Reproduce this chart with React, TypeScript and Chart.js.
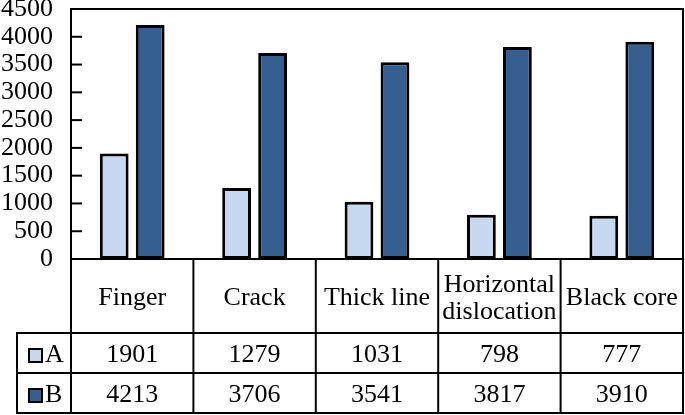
import React, { useEffect, useRef } from "react";
import { Chart, registerables } from "chart.js";

Chart.register(...registerables);

const categories: string[][] = [["Finger"], ["Crack"], ["Thick line"], ["Horizontal", "dislocation"], ["Black core"]];
const seriesNames = ["A", "B"];
const seriesA = [1901, 1279, 1031, 798, 777];
const seriesB = [4213, 3706, 3541, 3817, 3910];
const colorA = "#c6d9f0";
const colorB = "#355e91";
const yMax = 4500;
const yStep = 500;

const FAMILY = "'Liberation Serif', 'Times New Roman', serif";
const FSIZE = 26;
const FONT = FSIZE + "px " + FAMILY;

const tablePlugin = {
  id: "tablePlugin",
  afterDraw(chart: any) {
    const ctx = chart.ctx as CanvasRenderingContext2D;
    const xs = chart.scales.x;
    const ys = chart.scales.y;
    const area = chart.chartArea;
    const left = area.left;
    const right = area.right;
    const top = area.top;
    const zeroY = ys.getPixelForValue(0);
    const headerBottom = zeroY + 74;
    const rowH = 40;
    const rowABottom = headerBottom + rowH;
    const rowBBottom = rowABottom + rowH;
    const legendLeft = 17;
    const n = categories.length;
    const catW = (right - left) / n;

    ctx.save();
    ctx.strokeStyle = "#000";
    ctx.lineWidth = 2;
    ctx.lineCap = "square";
    const line = (x1: number, y1: number, x2: number, y2: number) => {
      ctx.beginPath();
      ctx.moveTo(x1, y1);
      ctx.lineTo(x2, y2);
      ctx.stroke();
    };
    line(left, top, right, top);
    line(right, top, right, rowBBottom);
    line(left, top, left, rowBBottom);
    line(left, zeroY, right, zeroY);
    line(legendLeft, headerBottom, right, headerBottom);
    line(legendLeft, rowABottom, right, rowABottom);
    line(legendLeft, rowBBottom, right, rowBBottom);
    line(legendLeft, headerBottom, legendLeft, rowBBottom);
    for (let i = 1; i < n; i++) {
      const xb = xs.getPixelForValue(i) - catW / 2;
      line(xb, zeroY, xb, rowBBottom);
    }
    for (let v = yStep; v <= yMax; v += yStep) {
      const y = ys.getPixelForValue(v);
      line(left, y, left + 10, y);
    }

    ctx.fillStyle = "#000";
    ctx.font = FONT;
    ctx.textAlign = "center";
    ctx.textBaseline = "alphabetic";
    const headerMid = (zeroY + headerBottom) / 2;
    categories.forEach((lines, i) => {
      const cx = xs.getPixelForValue(i);
      const lh = 27;
      const startY = headerMid + 9 - ((lines.length - 1) * lh) / 2;
      lines.forEach((t, j) => ctx.fillText(t, cx, startY + j * lh));
      ctx.fillText(String(seriesA[i]), cx, (headerBottom + rowABottom) / 2 + 9);
      ctx.fillText(String(seriesB[i]), cx, (rowABottom + rowBBottom) / 2 + 9);
    });

    const rows = [
      { name: seriesNames[0], color: colorA, mid: (headerBottom + rowABottom) / 2 },
      { name: seriesNames[1], color: colorB, mid: (rowABottom + rowBBottom) / 2 },
    ];
    rows.forEach((r) => {
      const sx = 29;
      const sy = r.mid - 4;
      ctx.fillStyle = r.color;
      ctx.fillRect(sx, sy, 13, 13);
      ctx.lineWidth = 2;
      ctx.strokeRect(sx, sy, 13, 13);
      ctx.fillStyle = "#000";
      ctx.textAlign = "left";
      ctx.fillText(r.name, 45, r.mid + 9);
    });
    ctx.restore();
  },
};

export default function App() {
  const ref = useRef<HTMLCanvasElement | null>(null);
  useEffect(() => {
    if (!ref.current) return;
    const common = {
      borderColor: "#000",
      borderWidth: 3,
      borderSkipped: false,
      categoryPercentage: 0.588,
      barPercentage: 0.8,
    };
    const chart = new Chart(ref.current, {
      type: "bar",
      data: {
        labels: categories.map((c) => c.join(" ")),
        datasets: [
          { label: seriesNames[0], data: seriesA, backgroundColor: colorA, ...common },
          { label: seriesNames[1], data: seriesB, backgroundColor: colorB, ...common },
        ],
      },
      options: {
        animation: false,
        responsive: false,
        devicePixelRatio: 1,
        layout: { padding: { top: 9, right: 2, bottom: 156, left: 0 } },
        plugins: { legend: { display: false }, tooltip: { enabled: false } },
        scales: {
          x: { display: false },
          y: {
            min: 0,
            max: yMax,
            ticks: {
              stepSize: yStep,
              autoSkip: false,
              color: "#000",
              padding: 18,
              font: { family: FAMILY, size: FSIZE },
              callback: (v: any) => String(v),
            },
            grid: { display: false, drawTicks: false },
            border: { display: false },
            afterFit: (scale: any) => {
              scale.width = 71;
              scale.paddingTop = 0;
              scale.paddingBottom = 0;
            },
          },
        },
      },
      plugins: [tablePlugin],
    });
    return () => chart.destroy();
  }, []);
  return (
    <div style={{ position: "fixed", left: 0, top: 0, width: 685, height: 415, background: "#fff" }}>
      <canvas ref={ref} width={685} height={415} style={{ display: "block" }} />
    </div>
  );
}
